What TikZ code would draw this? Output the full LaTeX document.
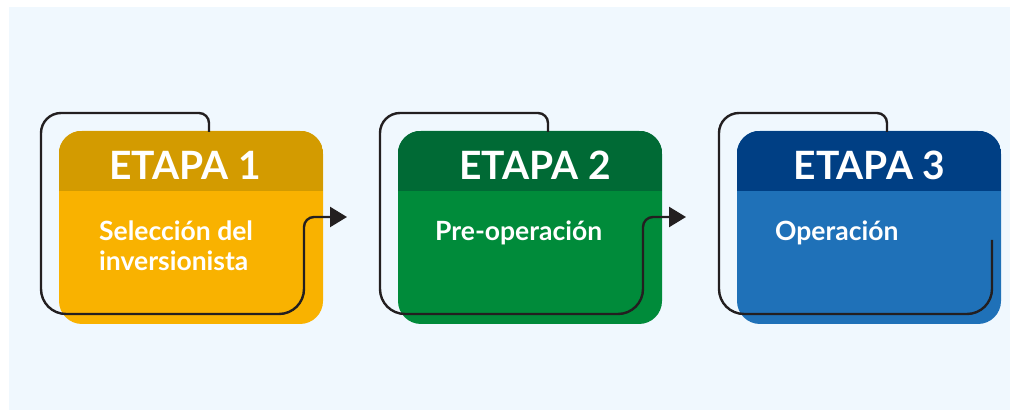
\documentclass[tikz,border=0pt]{standalone}
\usepackage{fontspec}
\setmainfont{Lato}
\usetikzlibrary{arrows.meta}
\definecolor{bgblue}{HTML}{F0F8FE}
\definecolor{lineblack}{HTML}{231F20}
\definecolor{headA}{HTML}{D39B00}
\definecolor{bodyA}{HTML}{F9B200}
\definecolor{headB}{HTML}{006A35}
\definecolor{bodyB}{HTML}{008B3A}
\definecolor{headC}{HTML}{003F84}
\definecolor{bodyC}{HTML}{1F71B8}
\tikzset{
  boxbody/.style={rectangle, minimum width=264pt, minimum height=193pt, rounded corners=23pt, inner sep=0pt, draw=none},
  headtext/.style={text=white, font=\fontsize{39}{44}\selectfont\bfseries, inner sep=0pt},
  bodytext/.style={text=white, font=\fontsize{26.5}{30}\selectfont\bfseries, inner sep=0pt, anchor=base west},
  loopline/.style={draw=lineblack, line width=2.4pt}
}
% #1 name, #2 box offset, #3 head colour, #4 body colour, #5 header, #6 line 1, #7 line 2, #8 header centre x, #9 text x
\newcommand\etapabox[9]{%
  \node[boxbody, fill=#4] (#1) at (191+#2,182.5) {};
  \begin{scope}
    \clip[rounded corners=23pt] (#1.south west) rectangle (#1.north east);
    \fill[#3] (#1.north west) rectangle ([yshift=-60pt]#1.north east);
  \end{scope}
  \node[headtext] (#1h) at (#8,245) {#5};
  \node[bodytext] (#1t1) at (#9,169) {#6};
  \node[bodytext] (#1t2) at (#9,139) {#7};
}
\begin{document}
\begin{tikzpicture}[x=1pt,y=1pt]
\useasboundingbox (0,0) rectangle (1010,410);
\fill[white] (0,0) rectangle (1010,410);
\fill[bgblue] (9,0) rectangle (1010,403);

\etapabox{e1}{0}{headA}{bodyA}{ETAPA 1}{Selección del}{inversionista}{185}{99}
\etapabox{e2}{339}{headB}{bodyB}{ETAPA 2}{Pre-operación}{}{535}{435}
\etapabox{e3}{678}{headC}{bodyC}{ETAPA 3}{Operación}{}{869.5}{775}

% free ends of the loops
\coordinate (a1) at (347,193);
\coordinate (a2) at (686,193);
\coordinate (s1) at (209,278);
\coordinate (s2) at (548,278);
\coordinate (s3) at (887,278);
\coordinate (f3) at (992,170);

\foreach \s/\d/\a in {s1/0/a1, s2/339/a2}{
  \draw[loopline, -{Triangle[length=17pt,width=20pt]}]
    (\s) -- ++(0,9) arc[start angle=0,end angle=90,radius=10]
    -- (61+\d,297) arc[start angle=90,end angle=180,radius=20]
    -- (41+\d,121) arc[start angle=180,end angle=270,radius=25]
    -- (279+\d,96) arc[start angle=270,end angle=360,radius=25]
    -- (304+\d,183) arc[start angle=180,end angle=90,radius=10]
    -- (\a);
}
\draw[loopline]
    (s3) -- ++(0,9) arc[start angle=0,end angle=90,radius=10]
    -- (739,297) arc[start angle=90,end angle=180,radius=20]
    -- (719,121) arc[start angle=180,end angle=270,radius=25]
    -- (967,96) arc[start angle=270,end angle=360,radius=25]
    -- (f3);
\end{tikzpicture}
\end{document}
